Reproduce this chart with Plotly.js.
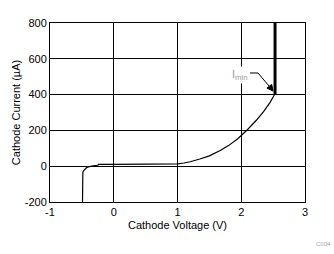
<!DOCTYPE html>
<html><head><meta charset="utf-8">
<script src="https://cdn.plot.ly/plotly-3.0.1.min.js"></script>
<style>html,body{margin:0;padding:0;background:#fff;}</style>
</head><body>
<div id="chart" style="width:334px;height:254px;"></div>
<script>
const voltage = [-0.49, -0.49, -0.485, -0.47, -0.45, -0.43, -0.40, -0.37, -0.34, -0.30, -0.25, -0.24, 0.0, 0.5, 1.0, 1.1, 1.2, 1.35, 1.5, 1.67, 1.8, 1.95, 2.1, 2.24, 2.35, 2.45, 2.5, 2.53];
const current = [-200, -45, -35, -24, -15, -9, -4, -1, 1, 3, 5, 10, 10, 11, 13, 18, 25, 40, 58, 88, 115, 155, 205, 258, 305, 355, 382, 405];
const iminVoltage = [2.53, 2.53];
const iminCurrent = [400, 800];
const xTicks = [-1, 0, 1, 2, 3];
const yTicks = [-200, 0, 200, 400, 600, 800];

const font = {family: 'Liberation Sans, Arial, sans-serif', size: 11, color: '#000'};
const data = [
  {x: voltage, y: current, mode: 'lines', line: {color: '#000', width: 1.2}, hoverinfo: 'none'},
  {x: iminVoltage, y: iminCurrent, mode: 'lines', line: {color: '#000', width: 3}, hoverinfo: 'none'}
];
const layout = {
  width: 334, height: 254,
  margin: {l: 50, r: 29, t: 23, b: 52},
  paper_bgcolor: '#fff', plot_bgcolor: '#fff',
  showlegend: false,
  font: font,
  xaxis: {range: [-1, 3], tickvals: xTicks, ticktext: xTicks.map(String), showgrid: true, gridcolor: '#000', gridwidth: 1,
    zeroline: false, showline: true, mirror: true, linecolor: '#000', linewidth: 1, ticks: '', ticklen: 0,
    title: {text: 'Cathode Voltage (V)', font: font, standoff: 4}, fixedrange: true},
  yaxis: {range: [-200, 800], tickvals: yTicks, ticktext: yTicks.map(String), showgrid: true, gridcolor: '#000', gridwidth: 1,
    zeroline: false, showline: true, mirror: true, linecolor: '#000', linewidth: 1, ticks: '', ticklen: 0,
    title: {text: 'Cathode Current (µA)', font: font, standoff: 1}, fixedrange: true},
  annotations: [
    {x: 1.98, y: 512, xref: 'x', yref: 'y', text: 'I<sub>min</sub>', showarrow: false, font: {family: font.family, size: 11, color: '#999'}, bgcolor: '#fff'},
    {x: 1, y: 0, xref: 'paper', yref: 'paper', xanchor: 'right', yanchor: 'top', xshift: 28, yshift: -37, text: 'C004', showarrow: false, font: {family: font.family, size: 6, color: '#aaa'}}
  ],
  shapes: [
    {type: 'path', xref: 'x', yref: 'y', path: 'M2.137,520.7 L2.263,520.7 L2.44,446', line: {color: '#000', width: 1}},
    {type: 'path', xref: 'x', yref: 'y', path: 'M2.498,420 L2.402,436.3 L2.478,457 Z', fillcolor: '#000', line: {color: '#000', width: 1}}
  ]
};
Plotly.newPlot('chart', data, layout, {displayModeBar: false, staticPlot: true});
</script>
</body></html>
